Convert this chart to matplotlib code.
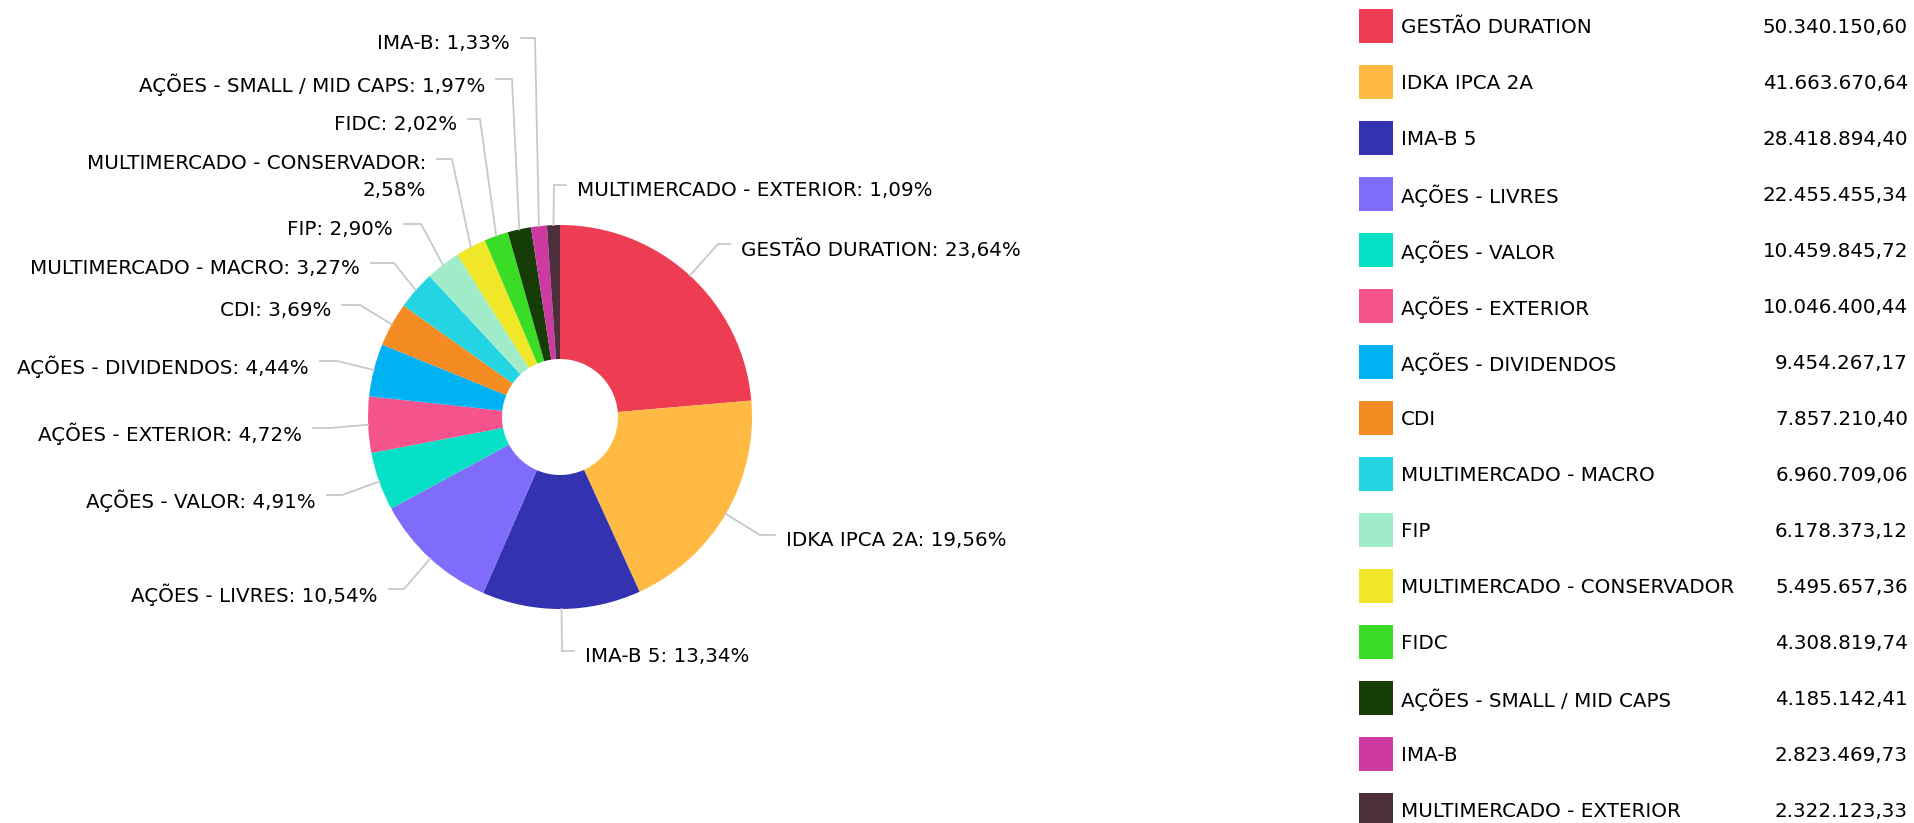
import matplotlib
matplotlib.use("Agg")
import matplotlib.pyplot as plt
from matplotlib.patches import Rectangle
import numpy as np

plt.rcParams['font.family'] = ['DejaVu Sans']

# ---------------- data ----------------
categories = [
    "GESTÃO DURATION", "IDKA IPCA 2A", "IMA-B 5", "AÇÕES - LIVRES",
    "AÇÕES - VALOR", "AÇÕES - EXTERIOR", "AÇÕES - DIVIDENDOS", "CDI",
    "MULTIMERCADO - MACRO", "FIP", "MULTIMERCADO - CONSERVADOR", "FIDC",
    "AÇÕES - SMALL / MID CAPS", "IMA-B", "MULTIMERCADO - EXTERIOR",
]
values = [
    50340150.60, 41663670.64, 28418894.40, 22455455.34,
    10459845.72, 10046400.44, 9454267.17, 7857210.40,
    6960709.06, 6178373.12, 5495657.36, 4308819.74,
    4185142.41, 2823469.73, 2322123.33,
]
colors = [
    "#EE3D52", "#FFBA43", "#3333B2", "#806CFA",
    "#06E0C6", "#F7538D", "#00B2F2", "#F58B23",
    "#24D4E2", "#A1ECC8", "#F0E728", "#3ADC25",
    "#163C08", "#CD3AA2", "#4D2F3B",
]

# ---------------- layout (pixel units, y measured from top) ----------------
W, H = 1915, 823
CX, CY = 560, 417
R_OUT, R_IN = 192, 58
FS = 14.3
TXT_C = "#000000"
LINE_C = "#c8c8c8"

# side, text x (edge nearest pie), text y (centre), elbow x
label_layout = {
    "GESTÃO DURATION": ("right", 741, 248, 718),
    "IDKA IPCA 2A": ("right", 786, 539, 760),
    "IMA-B 5": ("right", 585, 655, 562),
    "AÇÕES - LIVRES": ("left", 378, 593, 404),
    "AÇÕES - VALOR": ("left", 316, 499, 342),
    "AÇÕES - EXTERIOR": ("left", 302, 432, 330),
    "AÇÕES - DIVIDENDOS": ("left", 309, 365, 337),
    "CDI": ("left", 331, 309, 360),
    "MULTIMERCADO - MACRO": ("left", 360, 267, 394),
    "FIP": ("left", 393, 228, 421),
    "MULTIMERCADO - CONSERVADOR": ("left", 426, 163, 452),
    "FIDC": ("left", 457, 123, 480),
    "AÇÕES - SMALL / MID CAPS": ("left", 485, 83, 512),
    "IMA-B": ("left", 510, 42, 535),
    "MULTIMERCADO - EXTERIOR": ("right", 577, 189, 554),
}
wrap_labels = {"MULTIMERCADO - CONSERVADOR"}


def Y(y):
    return H - y


def br_num(v):
    s = f"{v:,.2f}"
    return s.replace(",", "X").replace(".", ",").replace("X", ".")


fig = plt.figure(figsize=(W / 100, H / 100), dpi=100)
ax = fig.add_axes([0, 0, 1, 1])

wedges, _ = ax.pie(values, colors=colors, startangle=90, counterclock=False,
                   center=(CX, Y(CY)), radius=R_OUT,
                   wedgeprops=dict(width=R_OUT - R_IN, linewidth=0))

total = sum(values)
for name, val, w in zip(categories, values, wedges):
    pct = val / total * 100
    pct_s = f"{pct:.2f}".replace(".", ",")
    side, tx, ty, ex = label_layout[name]
    ang = np.deg2rad((w.theta1 + w.theta2) / 2)
    px = w.center[0] + w.r * np.cos(ang)
    py = w.center[1] + w.r * np.sin(ang)
    ly = Y(ty - 4)
    if side == "left":
        hx = tx + 11
        ha = "right"
    else:
        hx = tx - 11
        ha = "left"
    ax.plot([px, ex, hx], [py, ly, ly], color=LINE_C, lw=1.3,
            solid_joinstyle="miter", zorder=1)
    if name in wrap_labels:
        ax.text(tx, Y(ty - 9), f"{name}:\n{pct_s}%", ha=ha, va="top",
                fontsize=FS, color=TXT_C, multialignment="right",
                linespacing=1.5)
    else:
        ax.text(tx, Y(ty + 1.5), f"{name}: {pct_s}%", ha=ha, va="center",
                fontsize=FS, color=TXT_C)

# ---------------- legend ----------------
LEG_X, LEG_Y0, LEG_DY, SQ = 1359, 26, 56, 34
for i, (name, val, c) in enumerate(zip(categories, values, colors)):
    yc = LEG_Y0 + i * LEG_DY
    ax.add_patch(Rectangle((LEG_X, Y(yc + SQ / 2)), SQ, SQ, facecolor=c,
                           edgecolor="none"))
    ax.text(1401, Y(yc + 1.5), name, ha="left", va="center", fontsize=FS,
            color=TXT_C)
    ax.text(1908, Y(yc + 1.5), br_num(val), ha="right", va="center",
            fontsize=FS, color=TXT_C)

ax.set_xlim(0, W)
ax.set_ylim(0, H)
ax.set_aspect("equal")
ax.axis("off")

fig.savefig("out.png", dpi=100, facecolor="white")
